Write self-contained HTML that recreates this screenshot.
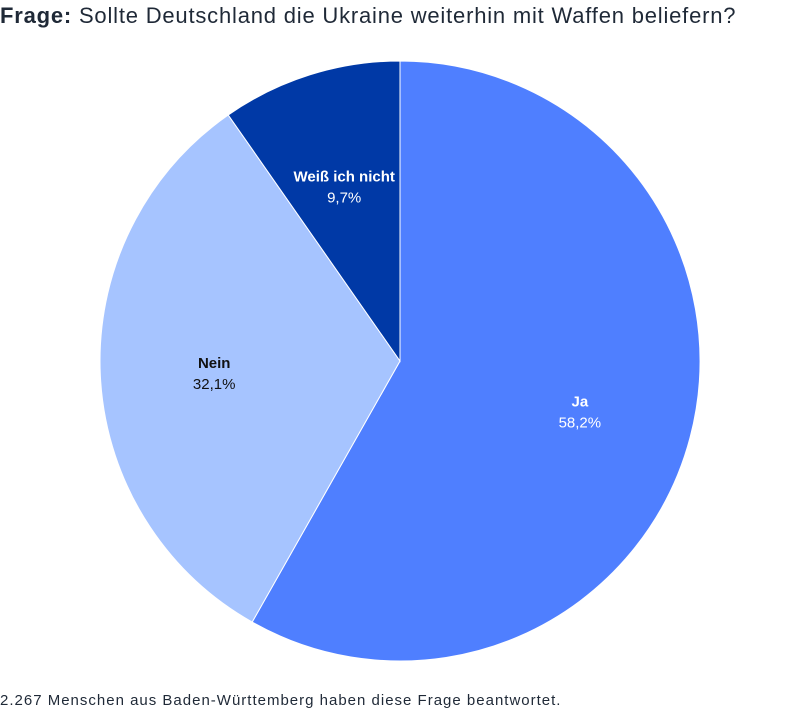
<!DOCTYPE html>
<html><head><meta charset="utf-8"><style>
body{margin:0;width:800px;height:714px;background:#fff;font-family:"Liberation Sans",sans-serif;color:#1f2937;overflow:hidden}
#title{position:absolute;left:0;top:3px;font-size:22px;letter-spacing:0.8px;white-space:nowrap}
#foot{position:absolute;left:0;top:692px;font-size:15px;letter-spacing:1px;white-space:nowrap}
svg{position:absolute;left:0;top:0}
</style></head><body>
<div id="title"><b>Frage:</b> Sollte Deutschland die Ukraine weiterhin mit Waffen beliefern?</div>
<svg id="chart" width="800" height="714"></svg>
<div id="foot">2.267 Menschen aus Baden-Württemberg haben diese Frage beantwortet.</div>
<script>
const categories=["Ja","Nein","Weiß ich nicht"];
const values=[58.2,32.1,9.7];
const labels=["58,2%","32,1%","9,7%"];
const colors=["#4f7fff","#a6c4ff","#0039a6"];
const textColors=["#fff","#111","#fff"];
const svg=document.getElementById('chart');
const NS="http://www.w3.org/2000/svg";
const cx=400,cy=361,r=300;
const total=values.reduce((a,b)=>a+b,0);
function pt(a,rr){return [cx+rr*Math.sin(a),cy-rr*Math.cos(a)];}
let start=0;
values.forEach((v,i)=>{
  const ang=v/total*2*Math.PI,end=start+ang;
  const [x1,y1]=pt(start,r),[x2,y2]=pt(end,r);
  const p=document.createElementNS(NS,'path');
  p.setAttribute('d',`M${cx},${cy}L${x1},${y1}A${r},${r} 0 ${ang>Math.PI?1:0} 1 ${x2},${y2}Z`);
  p.setAttribute('fill',colors[i]);p.setAttribute('stroke','#fff');p.setAttribute('stroke-width','1');
  
  
  svg.appendChild(p);
  const [lx,ly]=pt(start+ang/2,r*0.62);
  const t=document.createElementNS(NS,'text');
  t.setAttribute('x',lx);t.setAttribute('y',ly-2);t.setAttribute('text-anchor','middle');
  t.setAttribute('font-size','15');t.setAttribute('font-weight','bold');t.setAttribute('fill',textColors[i]);
  t.setAttribute('font-family','Liberation Sans, sans-serif');
  t.textContent=categories[i];
  
  
  svg.appendChild(t);
  const t2=document.createElementNS(NS,'text');
  t2.setAttribute('x',lx);t2.setAttribute('y',ly+19);t2.setAttribute('text-anchor','middle');
  t2.setAttribute('font-size','15');t2.setAttribute('fill',textColors[i]);
  t2.setAttribute('font-family','Liberation Sans, sans-serif');
  t2.textContent=labels[i];
  
  
  svg.appendChild(t2);
  start=end;
});
</script>
</body></html>
